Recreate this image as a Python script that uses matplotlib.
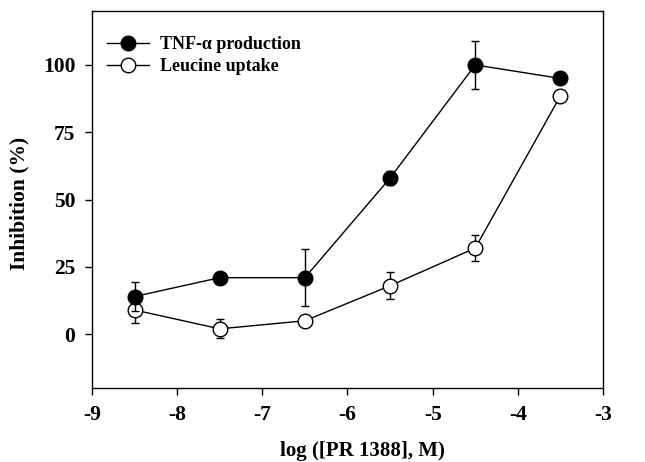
import matplotlib
matplotlib.use("Agg")
import matplotlib.pyplot as plt
from matplotlib.lines import Line2D

x = [-8.5, -7.5, -6.5, -5.5, -4.5, -3.5]
tnf = [14, 21, 21, 58, 100, 95]
tnf_err = [5.5, 0, 10.5, 2.5, 9, 0]
leu = [9, 2, 5, 18, 32, 88.5]
leu_err = [5, 3.5, 0, 5, 4.7, 0]
xticks = [-9, -8, -7, -6, -5, -4, -3]
yticks = [0, 25, 50, 75, 100]
labels = ['TNF-α production', 'Leucine uptake']

plt.rcParams['font.family'] = ['Liberation Serif', 'DejaVu Serif']
plt.rcParams['font.weight'] = 'bold'

fig = plt.figure(figsize=(6.45, 4.62), dpi=100)
ax = fig.add_axes([0.1426, 0.160, 0.7923, 0.816])

ax.errorbar(x, leu, yerr=leu_err, fmt='-o', color='black', mfc='white', mec='black',
            ms=10.5, lw=1, elinewidth=1, capsize=3, capthick=1, zorder=2)
ax.errorbar(x, tnf, yerr=tnf_err, fmt='-o', color='black', mfc='black', mec='black',
            ms=10.5, lw=1, elinewidth=1, capsize=3, capthick=1, zorder=3)

ax.set_xlim(-9, -3)
ax.set_ylim(-20, 120)
ax.set_xticks(xticks)
ax.set_yticks(yticks)
ax.set_xticklabels([str(t) for t in xticks])
ax.tick_params(direction='out', length=5, width=1, labelsize=15.5, pad=7)
for s in ax.spines.values():
    s.set_linewidth(1)

ax.set_xlabel('log ([PR 1388], M)', fontsize=15, fontweight='bold')
ax.xaxis.set_label_coords(0.53, -0.14)
ax.set_ylabel('Inhibition (%)', fontsize=15.5, fontweight='bold')
ax.yaxis.set_label_coords(-0.122, 0.49)

handles = [Line2D([], [], color='black', marker='o', ms=10.5, mfc='black', mec='black', lw=1),
           Line2D([], [], color='black', marker='o', ms=10.5, mfc='white', mec='black', lw=1)]
ax.legend(handles, labels, loc='upper left', frameon=False,
          bbox_to_anchor=(0.0, 0.975), borderaxespad=0.45,
          handlelength=2.3, labelspacing=0.3, handletextpad=0.6,
          prop={'weight': 'bold', 'size': 13})

fig.savefig('out.png', dpi=100)
